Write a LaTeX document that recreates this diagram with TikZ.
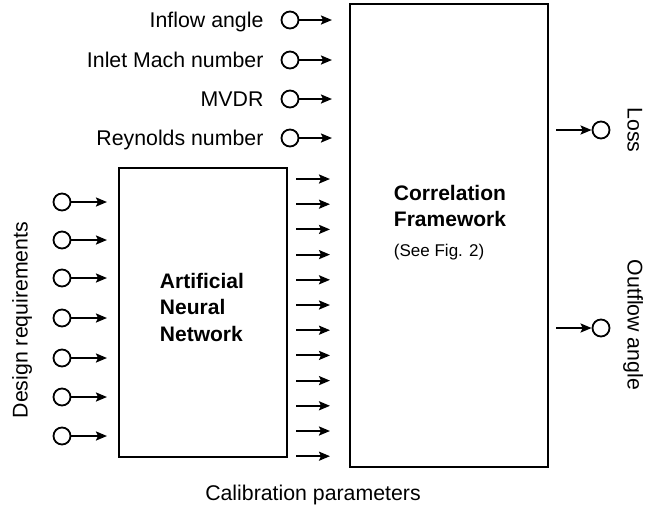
\documentclass[tikz,border=0pt]{standalone}
\usepackage{fontspec}
\setmainfont{Liberation Sans}
\usetikzlibrary{positioning,arrows.meta}
\tikzset{
  blk/.style ={draw, line width=2.2pt, inner sep=0pt, outer sep=0pt},
  port/.style={circle, draw, line width=1.8pt, minimum size=17pt, inner sep=0pt},
  lbl/.style ={font=\fontsize{21.3}{25}\selectfont, inner sep=0pt,
               text height=15pt, text depth=0pt},
  ttl/.style ={font=\fontsize{21}{26.5}\selectfont\bfseries, align=left, inner sep=0pt},
  note/.style={font=\fontsize{17}{20}\selectfont, inner sep=0pt},
  arr/.style ={-{Stealth[length=11pt, width=9pt, inset=2pt]}, line width=2pt},
}

\begin{document}
\begin{tikzpicture}[x=1pt, y=-1pt]
  \useasboundingbox (0,0) rectangle (664,515);
  % the two blocks
  \node[blk, minimum width=198pt, minimum height=463pt] (cf)  at (449,235.5) {};
  \node[blk, minimum width=168pt, minimum height=289pt] (ann) at (203,312.5) {};
  \node[ttl] (cft) at (450,206) {Correlation\\Framework};
  \node[note, below=17pt of cft.south west, anchor=north west] (cfn) {(See Fig. 2)};
  \node[ttl, align=left] (annt) at (202,307) {Artificial\\Neural\\Network};
  % flow conditions into the correlation
  \foreach \i/\y/\t in {1/20/Inflow angle, 2/60/Inlet Mach number,
                        3/99/MVDR, 4/138/Reynolds number} {
    \node[port] (fc\i) at (290,\y) {};
    \node[lbl, left=17pt of fc\i] (fct\i) {\t};
    \draw[arr] (fc\i) -- ([xshift=-18pt]fc\i -| cf.west);
  }
  % design requirements into the network
  \foreach \i/\y in {1/202,2/240,3/278,4/318,5/358,6/397,7/436} {
    \node[port] (dr\i) at (62,\y) {};
    \draw[arr] (dr\i) -- ([xshift=-12pt]dr\i -| ann.west);
  }
  \node[lbl, rotate=90] (drt) at (20,320) {Design requirements};
  % calibration parameters
  \foreach \i in {0,...,11} {
    \coordinate (cp\i) at (287,179+25.2*\i);
    \draw[arr] ([xshift=9pt]cp\i) -- ([xshift=-20pt]cp\i -| cf.west);
  }
  \node[lbl] (cpt) at (313,493) {Calibration parameters};
  % outputs
  \node[port] (loss) at (601,130) {};
  \node[port] (out)  at (601,328) {};
  \draw[arr] ([xshift=8pt]loss -| cf.east) -- (loss);
  \draw[arr] ([xshift=8pt]out -| cf.east) -- (out);
  \node[lbl, rotate=-90] (losst) at (635,130) {Loss};
  \node[lbl, rotate=-90] (outt)  at (635,325) {Outflow angle};
\end{tikzpicture}
\end{document}
